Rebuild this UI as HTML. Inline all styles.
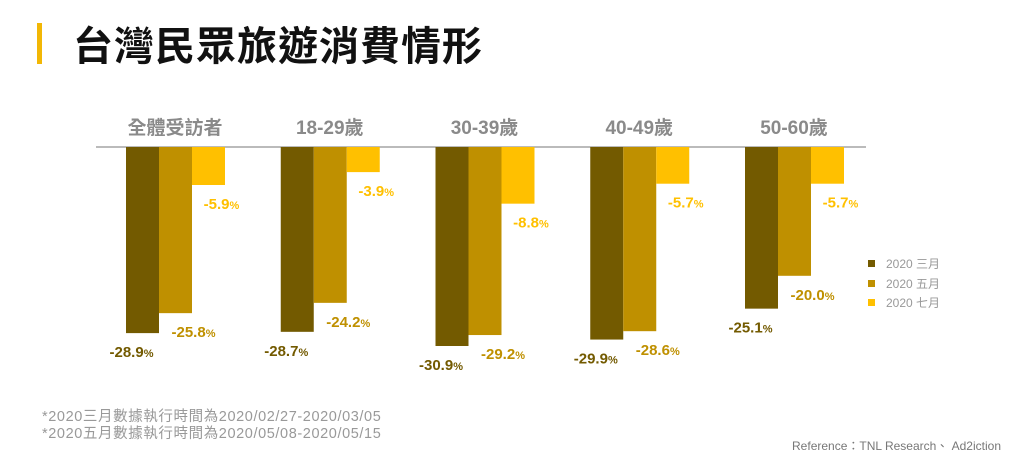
<!DOCTYPE html>
<html><head><meta charset="utf-8"><style>
body{margin:0;background:#fff;}
svg text{font-family:"Liberation Sans","Noto Sans CJK TC",sans-serif;}
</style></head><body>
<svg width="1024" height="461" viewBox="0 0 1024 461" xmlns="http://www.w3.org/2000/svg">
<rect x="37" y="23" width="5" height="41" fill="#f2b705"/>
<text x="73" y="60" font-size="40" font-weight="bold" fill="#111" letter-spacing="1">台灣民眾旅遊消費情形</text>
<line x1="96" y1="147" x2="866" y2="147" stroke="#bbb" stroke-width="2"/>
<g id="bars"></g>
<g>
<rect x="868" y="260" width="7" height="7" fill="#735a00"/>
<text x="886" y="268" font-size="12" fill="#999">2020 三月</text>
<rect x="868" y="280" width="7" height="7" fill="#bf9000"/>
<text x="886" y="288" font-size="12" fill="#999">2020 五月</text>
<rect x="868" y="299" width="7" height="7" fill="#ffc000"/>
<text x="886" y="307" font-size="12" fill="#999">2020 七月</text>
</g>
<text x="42" y="421" font-size="14.5" fill="#999" letter-spacing="0.6">*2020三月數據執行時間為2020/02/27-2020/03/05</text>
<text x="42" y="438" font-size="14.5" fill="#999" letter-spacing="0.6">*2020五月數據執行時間為2020/05/08-2020/05/15</text>
<text x="1001" y="450" font-size="12" fill="#777" text-anchor="end">Reference：TNL Research、 Ad2iction</text>
</svg>
<script>
const categories=["全體受訪者","18-29歲","30-39歲","40-49歲","50-60歲"];
const marValues=[-28.9,-28.7,-30.9,-29.9,-25.1];
const mayValues=[-25.8,-24.2,-29.2,-28.6,-20.0];
const julValues=[-5.9,-3.9,-8.8,-5.7,-5.7];
const series=[{v:marValues,c:"#735a00",n:"mar",dx:-11},{v:mayValues,c:"#bf9000",n:"may",dx:18},{v:julValues,c:"#ffc000",n:"jul",dx:13}];
const ns="http://www.w3.org/2000/svg";
const g=document.getElementById("bars");
const y=v=>147-v*6.44;
const gx=i=>126+i*154.75;
const bw=33;
categories.forEach((cat,i)=>{
  const t=document.createElementNS(ns,"text");
  t.setAttribute("x",gx(i)+49);t.setAttribute("y",134);t.setAttribute("font-size","19");
  t.setAttribute("font-weight","bold");t.setAttribute("fill","#8a8a8a");t.setAttribute("text-anchor","middle");
  
  
  t.textContent=cat;g.appendChild(t);
  series.forEach((s,j)=>{
    const v=s.v[i];const x=gx(i)+j*bw;
    const r=document.createElementNS(ns,"rect");
    r.setAttribute("x",x);r.setAttribute("y",147);r.setAttribute("width",bw);r.setAttribute("height",y(v)-147);r.setAttribute("fill",s.c);
    
    
    g.appendChild(r);
    const l=document.createElementNS(ns,"text");
    l.setAttribute("x",x+bw/2+s.dx);l.setAttribute("y",y(v)+24);l.setAttribute("font-size","15");
    l.setAttribute("font-weight","bold");l.setAttribute("fill",s.c);l.setAttribute("text-anchor","middle");
    
    
    const num=document.createElementNS(ns,"tspan");num.textContent=v.toFixed(1);
    const pct=document.createElementNS(ns,"tspan");pct.setAttribute("font-size","11");pct.textContent="%";
    l.appendChild(num);l.appendChild(pct);g.appendChild(l);
  });
});
</script>
</body></html>
